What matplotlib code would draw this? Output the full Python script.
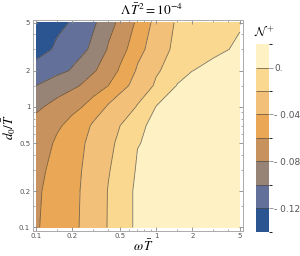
import matplotlib.pyplot as plt
import numpy as np
from matplotlib.colors import ListedColormap, BoundaryNorm

# grid (log-spaced nodes)
omega_T = [0.1, 0.15, 0.2, 0.3, 0.4, 0.5, 0.7, 1.0, 1.5, 2.0, 3.0, 5.0]
d0_T = [0.1, 0.2, 0.3, 0.5, 0.7, 1.0, 1.5, 2.0, 3.0, 5.0]

# N+ values, one row per d0_T value (bottom to top)
N_plus = [
    [-0.0615, -0.0512, -0.0439, -0.0302, -0.0189, -0.0092, 0.004, 0.006, 0.008, 0.008, 0.008, 0.008],
    [-0.0625, -0.0520, -0.0445, -0.0307, -0.0192, -0.0092, 0.004, 0.006, 0.008, 0.008, 0.008, 0.008],
    [-0.0650, -0.0531, -0.0453, -0.0321, -0.0214, -0.0116, 0.002, 0.005, 0.007, 0.008, 0.008, 0.008],
    [-0.0700, -0.0568, -0.0475, -0.0341, -0.0245, -0.0159, -0.0007, 0.004, 0.006, 0.007, 0.008, 0.008],
    [-0.0750, -0.0630, -0.0531, -0.0374, -0.0277, -0.0202, -0.0044, 0.006, 0.007, 0.007, 0.008, 0.008],
    [-0.0830, -0.0736, -0.0663, -0.0515, -0.0375, -0.0302, -0.0187, 0.0005, 0.005, 0.006, 0.007, 0.008],
    [-0.1000, -0.0906, -0.0840, -0.0710, -0.0600, -0.0470, -0.0317, -0.0174, 0.001, 0.005, 0.006, 0.007],
    [-0.1130, -0.1050, -0.0985, -0.0822, -0.0691, -0.0579, -0.0374, -0.0223, -0.0091, -0.0002, 0.004, 0.006],
    [-0.1280, -0.1165, -0.1090, -0.0961, -0.0781, -0.0673, -0.0472, -0.0272, -0.0154, -0.0104, -0.0034, 0.003],
    [-0.1350, -0.1254, -0.1179, -0.1028, -0.0878, -0.0752, -0.0563, -0.0326, -0.0173, -0.0132, -0.0075, -0.002],
]

levels = [-0.14, -0.12, -0.10, -0.08, -0.06, -0.04, -0.02, 0.0, 0.02]
band_colors = ['#2b5591', '#62709a', '#978476', '#c8925e',
               '#eaa756', '#f3c07a', '#fad88f', '#fef1c3']
cbar_ticks = [0.0, -0.04, -0.08, -0.12]
cbar_labels = ['0.', '- 0.04', '- 0.08', '- 0.12']
major = [0.1, 0.2, 0.5, 1, 2, 5]
minor = [0.15, 0.3, 0.4, 0.6, 0.7, 0.8, 0.9, 1.5, 3, 4]

cmap = ListedColormap(band_colors)
norm = BoundaryNorm(levels, cmap.N)
line_col = (0.3, 0.27, 0.22, 0.75)
grey = '#555555'

fig = plt.figure(figsize=(3.0, 2.56), dpi=100)
ax = fig.add_axes([0.11, 0.0996, 0.70, 0.824])

X, Y = np.meshgrid(omega_T, d0_T)
Z = np.array(N_plus)
cf = ax.contourf(X, Y, Z, levels=levels, cmap=cmap, norm=norm)
cs = ax.contour(X, Y, Z, levels=levels[1:-1], colors=[line_col],
                linewidths=0.6, linestyles='solid')

ax.set_xscale('log')
ax.set_yscale('log')
pad = 10 ** 0.025
ax.set_xlim(0.1 / pad, 5 * pad)
ax.set_ylim(0.1 / pad, 5 * pad)

for axis in (ax.xaxis, ax.yaxis):
    axis.set_major_locator(plt.FixedLocator(major))
    axis.set_minor_locator(plt.FixedLocator(minor))
    axis.set_minor_formatter(plt.NullFormatter())
ax.set_xticklabels(['0.1', '0.2', '0.5', '1', '2', '5'])
ax.set_yticklabels(['0.1', '0.2', '0.5', '1', '2', '5'])
ax.tick_params(which='both', direction='in', top=True, right=True,
               colors='#888888', labelcolor=grey, labelsize=5, pad=2)
ax.tick_params(which='major', length=3, width=0.6)
ax.tick_params(which='minor', length=1.6, width=0.5)
for s in ax.spines.values():
    s.set_color('#aaaaaa')
    s.set_linewidth(0.7)

fig.text(0.503, 1 - 10 / 256, r'$\Lambda\,\bar{T}^2 = 10^{-4}$',
         ha='center', va='center', fontsize=9.5, math_fontfamily='stix')
fig.text(0.477, 1 - 246 / 256, r'$\omega\,\bar{T}$',
         ha='center', va='center', fontsize=9.5, math_fontfamily='stix')
fig.text(0.03, 1 - 127 / 256, r'$d_0/\bar{T}$', rotation=90,
         ha='center', va='center', fontsize=9.5, math_fontfamily='stix')

cax = fig.add_axes([0.853, 0.094, 0.0433, 0.734])
cb = fig.colorbar(cf, cax=cax, ticks=cbar_ticks)
cb.add_lines(cs)
cb.outline.set_visible(False)
cb.ax.set_yticklabels(cbar_labels)
cb.ax.tick_params(length=3, width=0.6, colors='#888888', labelcolor=grey,
                  labelsize=6.5, pad=1)
fig.text(0.883, 1 - 32 / 256, r'$\mathcal{N}^+$', ha='center', va='center',
         fontsize=9, math_fontfamily='cm')

fig.savefig('out.png', dpi=100)
